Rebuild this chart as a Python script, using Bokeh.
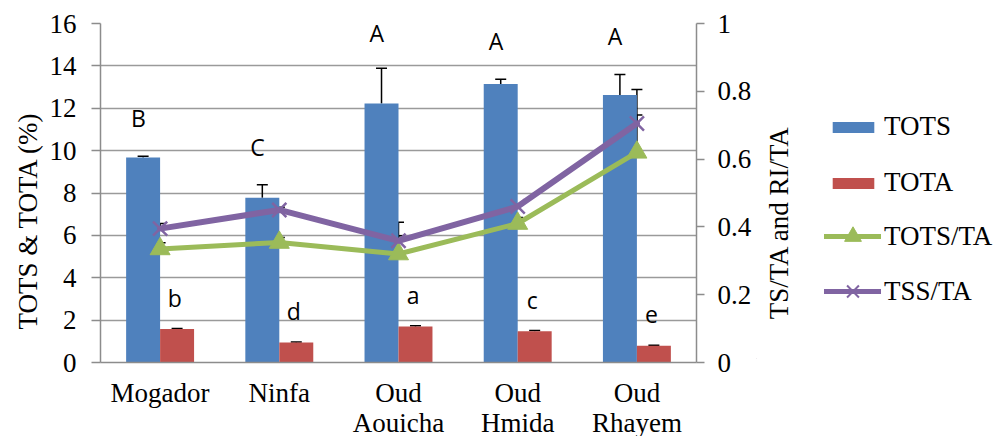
from bokeh.plotting import figure
from bokeh.layouts import row
from bokeh.models import (FactorRange, Range1d, LinearAxis, FixedTicker, Whisker, TeeHead,
                          ColumnDataSource, Legend, LegendItem, CustomJSTickFormatter, Title, Label)
from bokeh.transform import dodge
from bokeh.core.properties import value
from bokeh.embed import file_html
from bokeh.resources import INLINE

categories = ["Mogador", "Ninfa", "Oud\nAouicha", "Oud\nHmida", "Oud\nRhayem"]
tots = [9.67, 7.77, 12.22, 13.14, 12.63]
tots_err = [0.07, 0.62, 1.67, 0.23, 0.96]
tota = [1.58, 0.94, 1.70, 1.48, 0.79]
tota_err = [0.03, 0.03, 0.03, 0.03, 0.03]
tots_ta = [0.335, 0.354, 0.32, 0.41, 0.62]
tots_ta_err = [0.018, 0.015, 0.054, 0.018, 0.11]
tss_ta = [0.395, 0.45, 0.359, 0.46, 0.705]
tss_ta_err = [0.015, 0.008, 0.055, 0.007, 0.10]
upper_letters = ["B", "C", "A", "A", "A"]
lower_letters = ["b", "d", "a", "c", "e"]

BLUE, RED, GREEN, PURPLE = "#4F81BD", "#C0504D", "#9BBB59", "#8064A2"
AXIS = "#8c8c8c"
SERIF = "Liberation Serif"
FS = "27px"

src = ColumnDataSource(dict(
    cat=categories, tots=tots, tota=tota,
    tots_hi=[v + e for v, e in zip(tots, tots_err)],
    tota_hi=[v + e for v, e in zip(tota, tota_err)],
    tots_ta=tots_ta, tss_ta=tss_ta,
    tots_ta_hi=[v + e for v, e in zip(tots_ta, tots_ta_err)],
    tss_ta_hi=[v + e for v, e in zip(tss_ta, tss_ta_err)],
    ul=upper_letters, ll=lower_letters,
    uy=[min(v + e + 1.8, 15.55) for v, e in zip(tots, tots_err)],
    ly=[v + 1.48 for v in tota],
))

p = figure(x_range=FactorRange(*categories), y_range=Range1d(0, 16),
           frame_width=596, frame_height=339,
           min_border_left=100, min_border_right=60, min_border_top=23, min_border_bottom=74,
           output_backend="svg", toolbar_location=None)
p.extra_y_ranges = {"r": Range1d(0, 1)}
p.outline_line_color = None

W = 0.285
b1 = p.vbar(x=dodge("cat", -W / 2, range=p.x_range), top="tots", width=W, source=src,
            fill_color=BLUE, line_color=None)
b2 = p.vbar(x=dodge("cat", W / 2, range=p.x_range), top="tota", width=W, source=src,
            fill_color=RED, line_color=None)

for base, lo, hi in [(dodge("cat", -W / 2, range=p.x_range), "tots", "tots_hi"),
                     (dodge("cat", W / 2, range=p.x_range), "tota", "tota_hi")]:
    p.add_layout(Whisker(base=base, lower=lo, upper=hi, source=src, dimension="height",
                         line_color="black", line_width=1.5, lower_head=None,
                         upper_head=TeeHead(size=11, line_color="black", line_width=1.5)))

l1 = p.line(x="cat", y="tots_ta", source=src, y_range_name="r", line_color=GREEN, line_width=5,
            line_join="round", line_cap="round")
s1 = p.scatter(x="cat", y="tots_ta", source=src, y_range_name="r", marker="triangle",
               size=20, fill_color=GREEN, line_color=GREEN)
l2 = p.line(x="cat", y="tss_ta", source=src, y_range_name="r", line_color=PURPLE, line_width=6,
            line_join="round", line_cap="round")
s2 = p.scatter(x="cat", y="tss_ta", source=src, y_range_name="r", marker="x",
               size=20, line_color=PURPLE, line_width=2.5)

for lo, hi in [("tots_ta", "tots_ta_hi"), ("tss_ta", "tss_ta_hi")]:
    p.add_layout(Whisker(base="cat", lower=lo, upper=hi, source=src, dimension="height",
                         y_range_name="r", line_color="black", line_width=1.5, lower_head=None,
                         upper_head=TeeHead(size=11, line_color="black", line_width=1.5)))

p.text(x=dodge("cat", -W / 2 - 0.04, range=p.x_range), y="uy", text="ul", source=src,
       text_font=value("Open Sans"), text_font_size="23px", text_align="center",
       text_baseline="alphabetic", text_color="black")
p.text(x=dodge("cat", W / 2 - 0.02, range=p.x_range), y="ly", text="ll", source=src,
       text_font=value("Open Sans"), text_font_size="23px", text_align="center",
       text_baseline="alphabetic", text_color="black")

# axes
p.xgrid.grid_line_color = None
p.ygrid.ticker = FixedTicker(ticks=list(range(0, 17, 2)))
p.ygrid.grid_line_color = "#9a9a9a"
p.ygrid.grid_line_width = 1.5

p.xaxis.major_label_text_font = SERIF
p.xaxis.major_label_text_font_size = FS
p.xaxis.major_label_text_color = "black"
p.xaxis.major_label_text_line_height = 1.0
p.xaxis.major_tick_line_color = None
p.xaxis.axis_line_color = AXIS
p.xaxis.axis_line_width = 1.5
p.xaxis.major_label_standoff = 9

ya = p.yaxis[0]
ya.ticker = FixedTicker(ticks=list(range(0, 17, 2)))
ya.minor_tick_line_color = None
ya.major_tick_out = 9
ya.major_tick_in = 0
ya.major_tick_line_color = AXIS
ya.major_tick_line_width = 1.5
ya.axis_line_color = AXIS
ya.axis_line_width = 1.5
ya.major_label_text_font = SERIF
ya.major_label_text_font_size = FS
ya.major_label_text_color = "black"
ya.major_label_standoff = 15

ytitle = Title(text="TOTS & TOTA (%)", align="left", offset=33, standoff=8,
               text_font=SERIF, text_font_size=FS, text_font_style="normal", text_color="black")
p.add_layout(ytitle, "left")

ra = LinearAxis(y_range_name="r", ticker=FixedTicker(ticks=[0, 0.2, 0.4, 0.6, 0.8, 1.0]),
                formatter=CustomJSTickFormatter(code="return String(Math.round(tick*10)/10);"))
ra.minor_tick_line_color = None
ra.major_tick_out = 8
ra.major_tick_in = 0
ra.major_tick_line_color = AXIS
ra.major_tick_line_width = 1.5
ra.axis_line_color = AXIS
ra.axis_line_width = 1.5
ra.major_label_text_font = SERIF
ra.major_label_text_font_size = FS
ra.major_label_text_color = "black"
ra.major_label_standoff = 13
p.add_layout(ra, "right")

# side figure: right axis title and legend
lf = figure(width=238, height=436, x_range=Range1d(0, 1), y_range=Range1d(0, 1),
            min_border=0, output_backend="svg", toolbar_location=None)
lf.outline_line_color = None
lf.xaxis.visible = False
lf.yaxis.visible = False
lf.grid.grid_line_color = None

lf.add_layout(Label(x=22, y=136, x_units="screen", y_units="screen", text="TS/TA and RI/TA",
                    angle=90, angle_units="deg", text_align="center", text_baseline="middle",
                    text_font=SERIF, text_font_size=FS, text_color="black"))

off = dict(x=[-5], top=[-5])
d1 = lf.vbar(x="x", top="top", width=0.1, source=ColumnDataSource(off), fill_color=BLUE, line_color=None)
d2 = lf.vbar(x="x", top="top", width=0.1, source=ColumnDataSource(off), fill_color=RED, line_color=None)
pt = dict(x=[-5], y=[-5])
d3 = lf.line(x="x", y="y", source=ColumnDataSource(pt), line_color=GREEN, line_width=5, line_cap="round")
d4 = lf.scatter(x="x", y="y", source=ColumnDataSource(pt), marker="triangle", fill_color=GREEN, line_color=GREEN)
d5 = lf.line(x="x", y="y", source=ColumnDataSource(pt), line_color=PURPLE, line_width=5, line_cap="round")
d6 = lf.scatter(x="x", y="y", source=ColumnDataSource(pt), marker="x", line_color=PURPLE, line_width=2)

leg_common = dict(margin=0, padding=0, border_line_color=None, background_fill_alpha=0,
                  label_text_font=SERIF, label_text_font_size=FS, label_text_color="black")
leg1 = Legend(items=[LegendItem(label="TOTS", renderers=[d1]), LegendItem(label="TOTA", renderers=[d2])],
              location=(71, 160), glyph_width=52, glyph_height=14, label_standoff=5, spacing=25,
              **leg_common)
leg2 = Legend(items=[LegendItem(label="TOTS/TA", renderers=[d3, d4]),
                     LegendItem(label="TSS/TA", renderers=[d5, d6])],
              location=(68, 46), glyph_width=57, glyph_height=42, label_standoff=3, spacing=13,
              **leg_common)
lf.add_layout(leg1, "center")
lf.add_layout(leg2, "center")

layout = row(p, lf)
open("out.html", "w").write(file_html(layout, INLINE))
